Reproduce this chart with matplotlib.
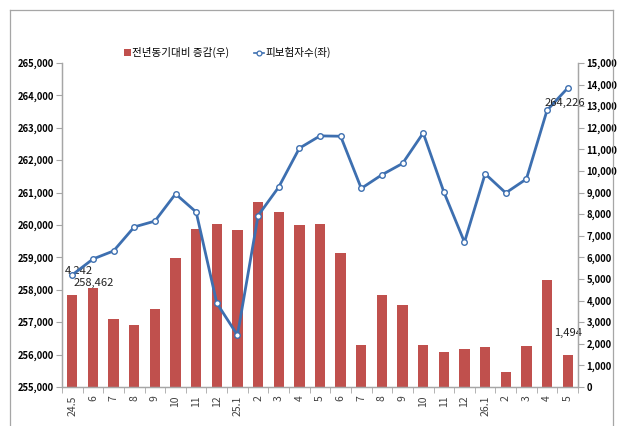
import matplotlib
matplotlib.use('Agg')
import matplotlib.pyplot as plt
from matplotlib.lines import Line2D
from matplotlib.patches import Rectangle
from matplotlib.ticker import FuncFormatter, MultipleLocator
import numpy as np

plt.rcParams['font.family'] = ['Noto Sans CJK KR', 'DejaVu Sans']

# Data (months, insured persons = left axis, YoY change = right axis)
months = ['24.5', '6', '7', '8', '9', '10', '11', '12',
          '25.1', '2', '3', '4', '5', '6', '7', '8', '9', '10', '11', '12',
          '26.1', '2', '3', '4', '5']
insured = [258462, 258950, 259200, 259940, 260120, 260960, 260400, 257590,
           256600, 260290, 261170, 262370, 262750, 262740, 261130, 261550,
           261900, 262840, 261020, 259470, 261580, 260990, 261420, 263540,
           264226]
yoy_change = [4242, 4580, 3150, 2870, 3610, 5970, 7310, 7550,
              7270, 8565, 8090, 7510, 7560, 6220, 1960, 4270,
              3780, 1965, 1600, 1770, 1850, 680, 1900, 4970,
              1494]
legend_labels = ['전년동기대비 증감(우)', '피보험자수(좌)']

W, H = 618, 426
fig = plt.figure(figsize=(W / 100, H / 100), dpi=100)

def fx(px):
    return px / W

def fy(py):
    # pixel row from top -> figure fraction
    return (H - py) / H

# outer chart frame (left, top, right)
frame_col = '#a6a6a6'
for xs, ys in [((10, 10), (426, 10)), ((10, 613), (10, 10)), ((613, 613), (10, 426))]:
    fig.add_artist(Line2D([fx(v) for v in xs], [fy(v) for v in ys],
                          color=frame_col, lw=0.9, transform=fig.transFigure))

left, right, bottom, top = 62, 578, 387, 63
ax_bar = fig.add_axes([fx(left), fy(bottom), (right - left) / W, (bottom - top) / H])
ax_line = ax_bar.twinx()

x = np.arange(len(months))
bar_col = '#c0504d'
line_col = '#3d6fb0'

ax_bar.bar(x, yoy_change, width=0.5, color=bar_col, zorder=2)
ax_line.plot(x, insured, color=line_col, lw=2, marker='o', ms=4.0,
             mfc='white', mec=line_col, mew=1.0, zorder=3)

ax_bar.set_xlim(-0.5, len(months) - 0.5)
ax_bar.set_ylim(0, 15000)
ax_line.set_ylim(255000, 265000)

# axis sides: bars on right, line on left
ax_bar.yaxis.tick_right()
ax_line.yaxis.tick_left()
ax_bar.yaxis.set_major_locator(MultipleLocator(1000))
ax_line.yaxis.set_major_locator(MultipleLocator(1000))
fmt = FuncFormatter(lambda v, p: f'{int(v):,}')
ax_bar.yaxis.set_major_formatter(fmt)
ax_line.yaxis.set_major_formatter(fmt)

spine_col = '#a6a6a6'
for a in (ax_bar, ax_line):
    a.spines['top'].set_visible(False)
    for s in ('left', 'right', 'bottom'):
        a.spines[s].set_color(spine_col)
        a.spines[s].set_linewidth(0.9)
    a.tick_params(axis='y', length=4, color=spine_col, labelsize=6.8, pad=2)
    a.set_facecolor('none')

for lbl in ax_bar.get_yticklabels() + ax_line.get_yticklabels():
    lbl.set_fontweight('bold')

ax_bar.set_xticks(x)
ax_bar.set_xticklabels(months, rotation=90, fontsize=7.5, color='#404040')
ax_bar.set_xticks(np.arange(-0.5, len(months), 1), minor=True)
ax_bar.tick_params(axis='x', which='major', length=0, pad=6)
ax_bar.tick_params(axis='x', which='minor', length=4, color=spine_col)

# data labels
lab_col = '#222222'
ax_bar.text(x[0] + 0.3, 5370, f'{yoy_change[0]:,}', fontsize=8,
            ha='center', va='center', color=lab_col)
ax_line.text(x[0] + 1.05, 258210, f'{insured[0]:,}', fontsize=8,
             ha='center', va='center', color=lab_col)
ax_line.text(x[-1] - 1.1, 263765, f'{insured[-1]:,}', fontsize=8,
             ha='left', va='center', color=lab_col)
ax_bar.text(x[-1] + 0.0, 2500, f'{yoy_change[-1]:,}', fontsize=8,
            ha='center', va='center', color=lab_col)

# legend, drawn by hand to match the spacing
fig.add_artist(Rectangle((fx(124), fy(56)), 7 / W, 7 / H, facecolor=bar_col,
                         edgecolor='none', transform=fig.transFigure))
fig.text(fx(132), fy(52), legend_labels[0], fontsize=7.6, ha='left', va='center')
fig.add_artist(Line2D([fx(254), fx(264)], [fy(53), fy(53)], color=line_col, lw=1.2,
                      transform=fig.transFigure))
fig.add_artist(Line2D([fx(259)], [fy(53)], marker='o', ms=3.5, mfc='white',
                      mec=line_col, mew=0.9, transform=fig.transFigure))
fig.text(fx(265), fy(52), legend_labels[1], fontsize=7.6, ha='left', va='center')

fig.savefig('out.png', dpi=100)
